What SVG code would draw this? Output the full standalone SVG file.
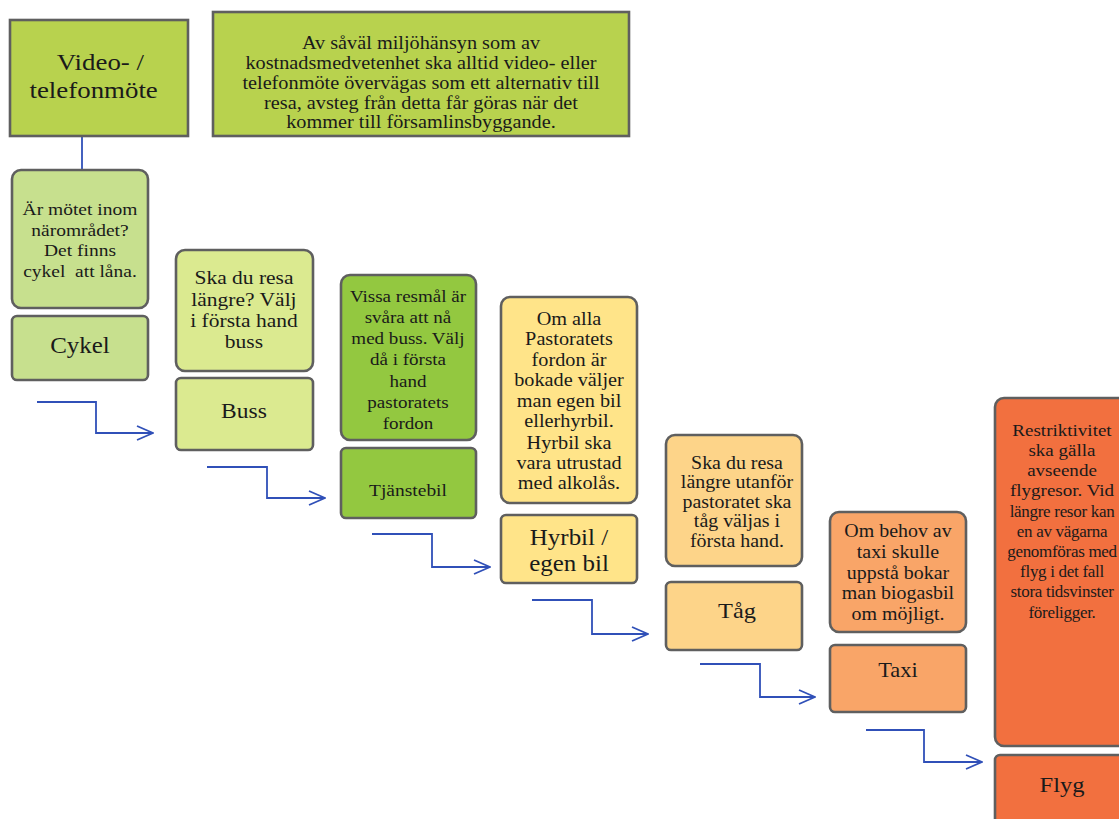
<svg xmlns="http://www.w3.org/2000/svg" width="1119" height="819" viewBox="0 0 1119 819" font-family="'Liberation Serif', 'DejaVu Serif', serif">
<style>
text{font-family:'Liberation Serif','Times New Roman','DejaVu Serif',serif;fill:#1a1a1a;text-anchor:middle}
.box{stroke:#5f5f5f;stroke-width:2.6}
.conn{fill:none;stroke:#3050b8;stroke-width:1.8}
.g1{fill:#b8d24e}.g2{fill:#c7e08e}.g3{fill:#dbea90}.g4{fill:#93c840}
.y1{fill:#ffe489}.y2{fill:#fdd489}.o1{fill:#f9a568}.r1{fill:#f2703f}
</style>
<defs>
<marker id="arr" viewBox="0 0 18 16" markerWidth="18" markerHeight="16" refX="17" refY="8" orient="auto" markerUnits="userSpaceOnUse">
<path d="M1,1 L17,8 L1,15" fill="none" stroke="#3050b8" stroke-width="1.8"/>
</marker>
</defs>
<rect width="1119" height="819" fill="#ffffff"/>
<g id="connectors">
<line x1="82" y1="136" x2="82" y2="170" stroke="#3050b8" stroke-width="1.8"/>
<path class="conn" d="M37,402 H96 V433 H153" marker-end="url(#arr)"/>
<path class="conn" d="M207,467 H267 V498 H325" marker-end="url(#arr)"/>
<path class="conn" d="M372,534 H432 V567 H490" marker-end="url(#arr)"/>
<path class="conn" d="M532,600 H592 V634 H648" marker-end="url(#arr)"/>
<path class="conn" d="M700,664 H760 V697 H815" marker-end="url(#arr)"/>
<path class="conn" d="M866,730 H924 V762 H982" marker-end="url(#arr)"/>
</g>
<g id="video">
<rect class="box g1" x="10" y="20" width="178" height="116"/>
<g transform="matrix(1.12 0 0 1 -11.64 0)" font-size="24">
<text x="100" y="70">Video- /</text>
<text x="94" y="98">telefonmöte</text>
</g>
</g>
<g id="note">
<rect class="box g1" x="213" y="12" width="416" height="124"/>
<g transform="matrix(1.12 0 0 1 -50.52 0)" font-size="18.1">
<text x="421" y="49">Av såväl miljöhänsyn som av</text>
<text x="421" y="69">kostnadsmedvetenhet ska alltid video- eller</text>
<text x="421" y="89">telefonmöte övervägas som ett alternativ till</text>
<text x="421" y="109">resa, avsteg från detta får göras när det</text>
<text x="421" y="128">kommer till församlinsbyggande.</text>
</g>
</g>
<g id="cykel-info">
<rect class="box g2" x="12" y="170" width="136" height="138" rx="9"/>
<g transform="matrix(1.12 0 0 1 -9.6 0)" font-size="17.4">
<text x="80" y="215">Är mötet inom</text>
<text x="80" y="236">närområdet?</text>
<text x="80" y="256">Det finns</text>
<text x="80" y="277">cykel&#160; att låna.</text>
</g>
</g>
<g id="cykel">
<rect class="box g2" x="12" y="316" width="136" height="64" rx="5"/>
<text x="80" y="353" font-size="22.3" transform="matrix(1.12 0 0 1 -9.6 0)">Cykel</text>
</g>
<g id="buss-info">
<rect class="box g3" x="176" y="250" width="137" height="121" rx="9"/>
<g transform="matrix(1.12 0 0 1 -29.28 0)" font-size="19.2">
<text x="244" y="284">Ska du resa</text>
<text x="244" y="306">längre? Välj</text>
<text x="244" y="327">i första hand</text>
<text x="244" y="348">buss</text>
</g>
</g>
<g id="buss">
<rect class="box g3" x="176" y="378" width="137" height="72" rx="5"/>
<text x="244" y="418" font-size="21" transform="matrix(1.12 0 0 1 -29.28 0)">Buss</text>
</g>
<g id="tjanstebil-info">
<rect class="box g4" x="341" y="275" width="135" height="165" rx="9"/>
<g transform="matrix(1.12 0 0 1 -48.96 0)" font-size="17">
<text x="408" y="302">Vissa resmål är</text>
<text x="408" y="323">svåra att nå</text>
<text x="408" y="344">med buss. Välj</text>
<text x="408" y="365">då i första</text>
<text x="408" y="387">hand</text>
<text x="408" y="408">pastoratets</text>
<text x="408" y="429">fordon</text>
</g>
</g>
<g id="tjanstebil">
<rect class="box g4" x="341" y="448" width="135" height="70" rx="5"/>
<text x="408" y="496" font-size="17.4" transform="matrix(1.12 0 0 1 -48.96 0)">Tjänstebil</text>
</g>
<g id="hyrbil-info">
<rect class="box y1" x="501" y="297" width="136" height="206" rx="9"/>
<g transform="matrix(1.12 0 0 1 -68.28 0)" font-size="18.1">
<text x="569" y="325">Om alla</text>
<text x="569" y="345">Pastoratets</text>
<text x="569" y="366">fordon är</text>
<text x="569" y="386">bokade väljer</text>
<text x="569" y="407">man egen bil</text>
<text x="569" y="427">ellerhyrbil.</text>
<text x="569" y="449">Hyrbil ska</text>
<text x="569" y="469">vara utrustad</text>
<text x="569" y="489">med alkolås.</text>
</g>
</g>
<g id="hyrbil">
<rect class="box y1" x="501" y="515" width="136" height="68" rx="5"/>
<g transform="matrix(1.12 0 0 1 -68.28 0)" font-size="22.3">
<text x="569" y="545">Hyrbil /</text>
<text x="569" y="571">egen bil</text>
</g>
</g>
<g id="tag-info">
<rect class="box y2" x="666" y="435" width="136" height="131" rx="9"/>
<g transform="matrix(1.12 0 0 1 -88.44 0)" font-size="17.8">
<text x="737" y="469">Ska du resa</text>
<text x="737" y="488.5">längre utanför</text>
<text x="737" y="508">pastoratet ska</text>
<text x="737" y="527.5">tåg väljas i</text>
<text x="737" y="547">första hand.</text>
</g>
</g>
<g id="tag">
<rect class="box y2" x="666" y="582" width="136" height="68" rx="5"/>
<text x="737" y="618" font-size="21.8" transform="matrix(1.12 0 0 1 -88.44 0)">Tåg</text>
</g>
<g id="taxi-info">
<rect class="box o1" x="830" y="512" width="136" height="120" rx="9"/>
<g transform="matrix(1.12 0 0 1 -107.76 0)" font-size="17.8">
<text x="898" y="537">Om behov av</text>
<text x="898" y="558">taxi skulle</text>
<text x="898" y="579">uppstå bokar</text>
<text x="898" y="599">man biogasbil</text>
<text x="898" y="620">om möjligt.</text>
</g>
</g>
<g id="taxi">
<rect class="box o1" x="830" y="645" width="136" height="67" rx="5"/>
<text x="898" y="677" font-size="20" transform="matrix(1.12 0 0 1 -107.76 0)">Taxi</text>
</g>
<g id="flyg-info">
<rect class="box r1" x="995" y="398" width="140" height="348" rx="9"/>
<g transform="matrix(1.12 0 0 1 -127.44 0)" font-size="17">
<text x="1062" y="436">Restriktivitet</text>
<text x="1062" y="456">ska gälla</text>
<text x="1062" y="476">avseende</text>
<text x="1062" y="496">flygresor. Vid</text>
</g>
<g font-size="17" letter-spacing="-0.3">
<text x="1062" y="517">längre resor kan</text>
<text x="1062" y="537">en av vägarna</text>
<text x="1062" y="557">genomföras med</text>
<text x="1062" y="577">flyg i det fall</text>
<text x="1062" y="597">stora tidsvinster</text>
<text x="1062" y="618">föreligger.</text>
</g>
</g>
<g id="flyg">
<rect class="box r1" x="995" y="755" width="140" height="80" rx="5"/>
<text x="1062" y="792" font-size="21.9" transform="matrix(1.12 0 0 1 -127.44 0)">Flyg</text>
</g>
</svg>
